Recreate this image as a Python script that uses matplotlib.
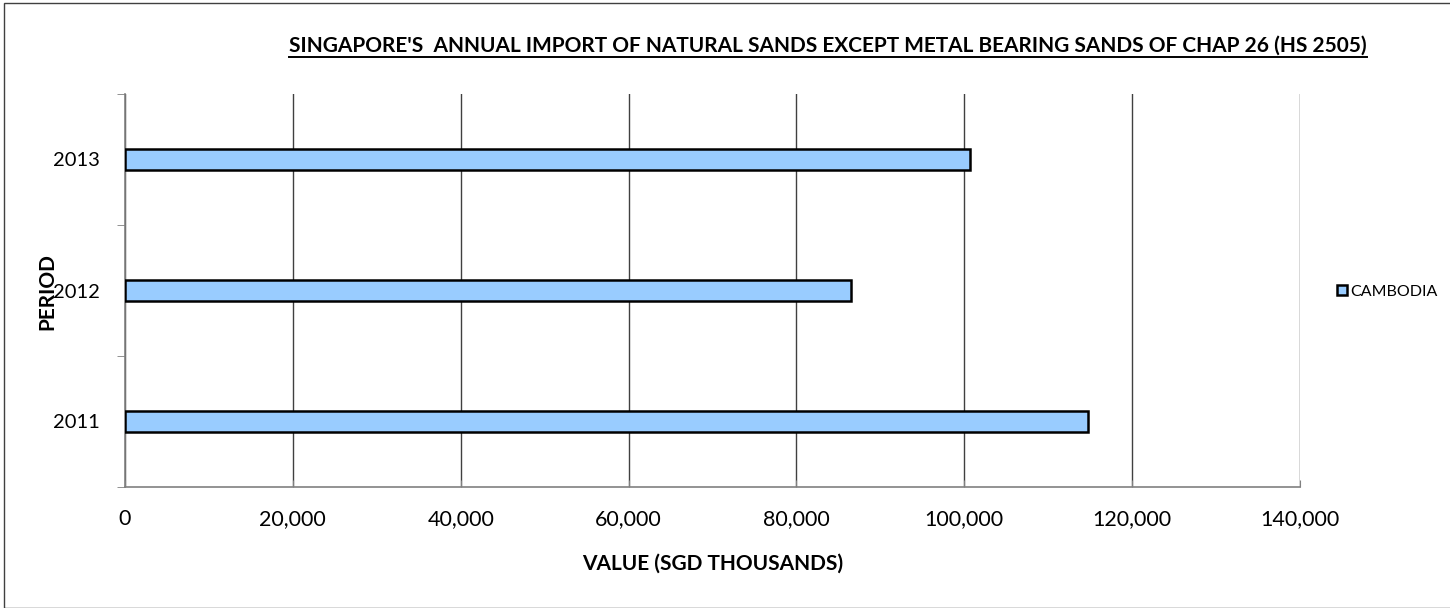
import matplotlib
matplotlib.use('Agg')
import matplotlib.pyplot as plt
from matplotlib.patches import Rectangle
from matplotlib.ticker import FuncFormatter, FixedLocator

periods = ['2011', '2012', '2013']
values = [114760, 86500, 100700]
series_name = 'CAMBODIA'
title = "SINGAPORE'S  ANNUAL IMPORT OF NATURAL SANDS EXCEPT METAL BEARING SANDS OF CHAP 26 (HS 2505)"

plt.rcParams['font.family'] = ['Lato', 'DejaVu Sans']

W, H = 1450, 608
fig = plt.figure(figsize=(W / 100, H / 100), dpi=100)

# outer chart frame (runs off the right/bottom of the picture)
fig.patches.append(Rectangle((4 / W, 0), 2, 1 - 3 / H, transform=fig.transFigure,
                             fill=False, edgecolor='#404040', linewidth=1.0))

ax = fig.add_axes([125 / W, 1 - 487 / H, (1300 - 125) / W, (487 - 94) / H])

ypos = list(range(len(periods)))
ax.barh(ypos, values, height=0.16, color='#99CCFF', edgecolor='black',
        linewidth=1.8, label=series_name, zorder=3)

ax.set_xlim(0, 140000)
ax.set_ylim(-0.5, len(periods) - 0.5)
ax.set_xticks(range(0, 140001, 20000))
ax.xaxis.set_major_formatter(FuncFormatter(lambda v, p: f'{int(v):,}'))
ax.grid(axis='x', color='#404040', linewidth=1.0, zorder=1)

ax.set_yticks(ypos)
ax.set_yticklabels(periods)
ax.yaxis.set_minor_locator(FixedLocator([-0.5, 0.5, 1.5, 2.5]))
ax.tick_params(axis='y', which='major', length=0, pad=18, labelsize=14.5)
ax.tick_params(axis='y', which='minor', length=6, color='#808080', direction='out')
ax.tick_params(axis='x', length=5, direction='in', color='#808080', pad=16, labelsize=15.5)

for s in ['top', 'right']:
    ax.spines[s].set_visible(False)
for s in ['left', 'bottom']:
    ax.spines[s].set_color('#808080')
    ax.spines[s].set_linewidth(1.2)

ax.set_xlabel('VALUE (SGD THOUSANDS)', fontsize=15, fontweight='bold', va='center')
ax.xaxis.set_label_coords(0.5, (487 - 564) / (487 - 94))
fig.text(47 / W, 1 - 292 / H, 'PERIOD', rotation=90, fontsize=15, fontweight='bold',
         ha='center', va='center')

t = fig.text(828 / W, 1 - 46 / H, title, fontsize=15, fontweight='bold',
             ha='center', va='center')
fig.canvas.draw()
bb = t.get_window_extent()
fig.add_artist(plt.Line2D([bb.x0 / W, bb.x1 / W], [(bb.y0 - 1) / H, (bb.y0 - 1) / H],
                          transform=fig.transFigure, color='black', linewidth=1.4))

fig.legend(loc='center left', bbox_to_anchor=(1337 / W, 1 - 292 / H), frameon=False,
           fontsize=11.5, handlelength=0.6, handleheight=0.6, handletextpad=0.2,
           borderaxespad=0, borderpad=0)

fig.savefig('out.png', dpi=100)
